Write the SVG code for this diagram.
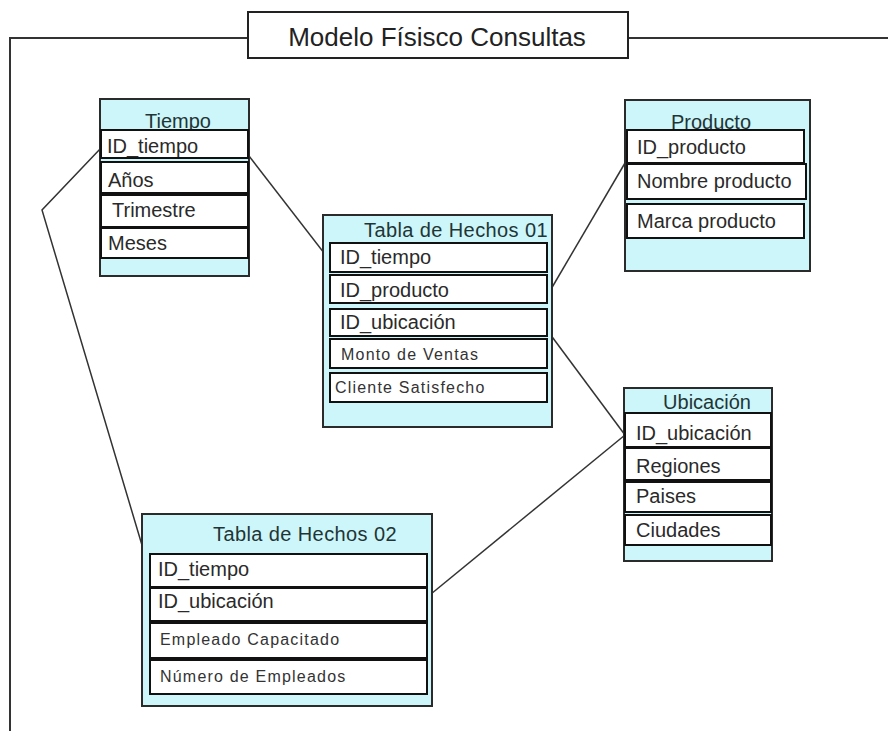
<svg xmlns="http://www.w3.org/2000/svg" width="888" height="731" viewBox="0 0 888 731">
  <style>
    .frame { fill: none; stroke: #333; stroke-width: 2; }
    .tbl { fill: #cdf6fa; stroke: #2b2b2b; stroke-width: 2; }
    .row { fill: #fff; stroke: #111; stroke-width: 2; }
    .hdr { font-family: "Liberation Sans", Arial, sans-serif; font-size: 20px; fill: #1f3535; text-anchor: middle; }
    .txt { font-family: "Liberation Sans", Arial, sans-serif; font-size: 20px; fill: #2a2a2a; }
    .sm { font-family: "Liberation Sans", Arial, sans-serif; font-size: 16px; letter-spacing: 1.2px; fill: #333; }
    .title { font-family: "Liberation Sans", Arial, sans-serif; font-size: 26px; fill: #222; text-anchor: middle; }
    .link { fill: none; stroke: #333; stroke-width: 1.5; }
  </style>

  <rect width="888" height="731" fill="#fff"/>

  <!-- outer frame with title tab -->
  <g id="frame">
    <polyline class="frame" points="10,731 10,38 248,38"/>
    <line class="frame" x1="628" y1="38" x2="888" y2="38"/>
    <rect x="248" y="12" width="380" height="46" fill="#fff" stroke="#222" stroke-width="2"/>
    <text class="title" x="437" y="46">Modelo Físisco Consultas</text>
  </g>

  <!-- relationship lines -->
  <g id="connectors">
    <line class="link" x1="249" y1="156" x2="331" y2="262"/>
    <polyline class="link" points="101,148 42,210 150,572"/>
    <line class="link" x1="547" y1="296" x2="625" y2="163"/>
    <line class="link" x1="547" y1="330" x2="625" y2="435"/>
    <line class="link" x1="431" y1="594" x2="625" y2="435"/>
  </g>

  <g id="tiempo">
    <rect class="tbl" x="100" y="99" width="149" height="177"/>
    <text class="hdr" x="178" y="128" font-size="19">Tiempo</text>
    <rect class="row" x="101" y="130" width="147" height="28"/>
    <text class="txt" x="107" y="153">ID_tiempo</text>
    <rect class="row" x="101" y="162" width="147" height="31"/>
    <text class="txt" x="108" y="187">Años</text>
    <rect class="row" x="101" y="195" width="147" height="32"/>
    <text class="txt" x="112" y="217">Trimestre</text>
    <rect class="row" x="101" y="228" width="147" height="30"/>
    <text class="txt" x="108" y="250">Meses</text>
  </g>

  <g id="hechos01">
    <rect class="tbl" x="323" y="215" width="229" height="212"/>
    <text class="hdr" x="456" y="237" letter-spacing="0.4">Tabla de Hechos 01</text>
    <rect class="row" x="330" y="243" width="217" height="29"/>
    <text class="txt" x="340" y="264">ID_tiempo</text>
    <rect class="row" x="330" y="275" width="217" height="28"/>
    <text class="txt" x="340" y="297">ID_producto</text>
    <rect class="row" x="330" y="309" width="217" height="27"/>
    <text class="txt" x="340" y="329">ID_ubicación</text>
    <rect class="row" x="330" y="339" width="217" height="29"/>
    <text class="sm" x="341" y="360">Monto de Ventas</text>
    <rect class="row" x="330" y="373" width="217" height="29"/>
    <text class="sm" x="335" y="393" letter-spacing="1">Cliente Satisfecho</text>
  </g>

  <g id="producto">
    <rect class="tbl" x="625" y="100" width="185" height="171"/>
    <text class="hdr" x="711" y="129">Producto</text>
    <rect class="row" x="627" y="130" width="177" height="33"/>
    <text class="txt" x="637" y="154">ID_producto</text>
    <rect class="row" x="627" y="164" width="179" height="35"/>
    <text class="txt" x="637" y="188">Nombre producto</text>
    <rect class="row" x="627" y="204" width="177" height="34"/>
    <text class="txt" x="637" y="228">Marca producto</text>
  </g>

  <g id="ubicacion">
    <rect class="tbl" x="624" y="388" width="148" height="173"/>
    <text class="hdr" x="707" y="409">Ubicación</text>
    <rect class="row" x="625" y="413" width="146" height="34"/>
    <text class="txt" x="636" y="440">ID_ubicación</text>
    <rect class="row" x="625" y="448" width="146" height="32"/>
    <text class="txt" x="636" y="473">Regiones</text>
    <rect class="row" x="625" y="482" width="146" height="30"/>
    <text class="txt" x="636" y="503">Paises</text>
    <rect class="row" x="625" y="515" width="146" height="30"/>
    <text class="txt" x="636" y="537">Ciudades</text>
  </g>

  <g id="hechos02">
    <rect class="tbl" x="142" y="514" width="290" height="192"/>
    <text class="hdr" x="305" y="541" letter-spacing="0.4">Tabla de Hechos 02</text>
    <rect class="row" x="150" y="554" width="277" height="33"/>
    <text class="txt" x="158" y="576">ID_tiempo</text>
    <rect class="row" x="150" y="588" width="277" height="33"/>
    <text class="txt" x="158" y="608">ID_ubicación</text>
    <rect class="row" x="150" y="623" width="277" height="35"/>
    <text class="sm" x="160" y="645" letter-spacing="1.3">Empleado Capacitado</text>
    <rect class="row" x="150" y="660" width="277" height="34"/>
    <text class="sm" x="160" y="682" letter-spacing="1.3">Número de Empleados</text>
  </g>
</svg>
